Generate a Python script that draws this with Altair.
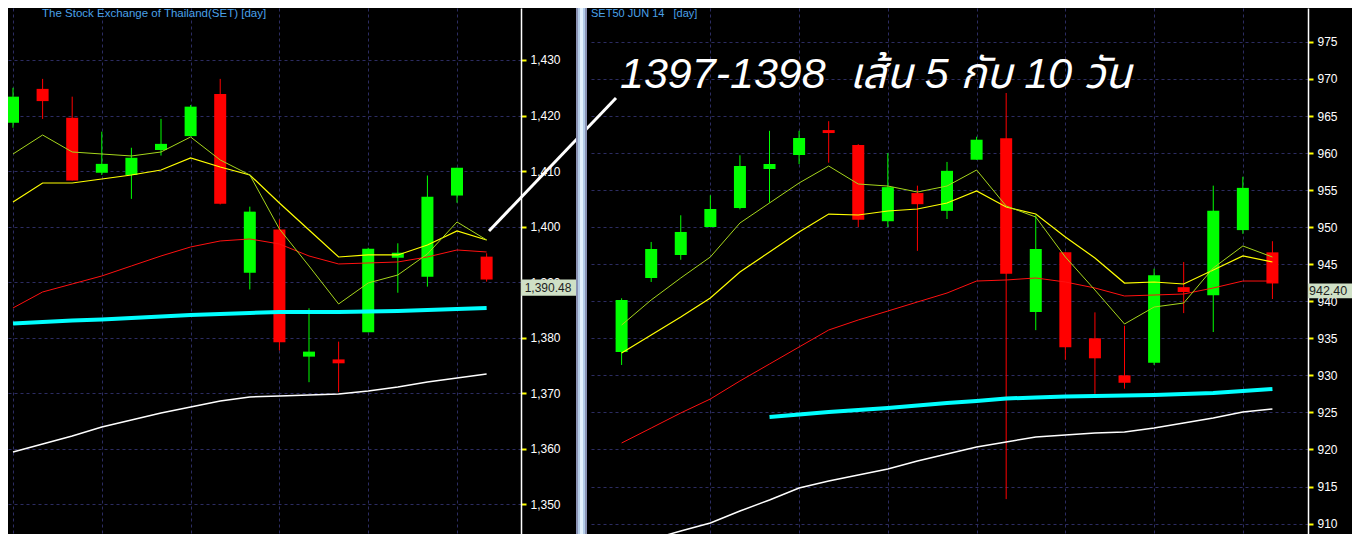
import altair as alt
import pandas as pd

# ---------------- Left panel: SET index, daily ----------------
set_day = list(range(1, 18))
set_open = [1418.7, 1424.8, 1419.6, 1409.7, 1409.3, 1413.8, 1416.3, 1423.9, 1391.7,
            1399.5, 1376.6, 1376.1, 1381.0, 1394.4, 1391.0, 1405.6, 1394.6]
set_high = [1425.0, 1426.6, 1423.4, 1417.1, 1414.2, 1419.4, 1421.9, 1426.6, 1403.6,
            1401.3, 1385.3, 1379.3, 1396.2, 1397.0, 1409.2, 1410.6, 1395.2]
set_low = [1417.8, 1419.4, 1408.3, 1409.3, 1405.0, 1412.8, 1416.3, 1404.0, 1388.7,
           1377.7, 1372.0, 1370.2, 1381.0, 1388.1, 1389.2, 1404.3, 1390.1]
set_close = [1423.4, 1422.6, 1408.3, 1411.3, 1412.4, 1414.9, 1421.6, 1404.1, 1402.7,
             1379.2, 1377.5, 1375.4, 1396.0, 1395.3, 1405.4, 1410.6, 1390.48]
set_ma5 = [1413.08, 1416.50, 1413.44, 1413.08, 1412.72, 1413.44, 1416.14, 1412.00, 1409.30,
           1399.58, 1392.92, 1386.08, 1389.86, 1391.30, 1395.08, 1400.84, 1397.60]
set_ma10 = [1404.44, 1407.86, 1407.86, 1408.58, 1409.30, 1410.20, 1412.36, 1410.74, 1409.30,
            1404.26, 1399.40, 1394.54, 1394.90, 1394.90, 1396.70, 1399.22, 1397.60]
set_ma25 = [1385.36, 1388.24, 1389.68, 1391.12, 1392.92, 1394.72, 1396.34, 1397.42, 1397.78,
            1396.88, 1394.72, 1393.28, 1393.46, 1393.64, 1394.54, 1395.80, 1395.44]
set_cyan = [1382.57, 1382.84, 1383.11, 1383.29, 1383.56, 1383.83, 1384.10, 1384.28, 1384.46,
            1384.64, 1384.64, 1384.64, 1384.73, 1384.82, 1385.00, 1385.18, 1385.36]
set_white = [1359.43, 1360.87, 1362.31, 1363.93, 1365.19, 1366.45, 1367.53, 1368.61, 1369.33,
             1369.51, 1369.69, 1369.87, 1370.41, 1371.13, 1372.03, 1372.75, 1373.47]
set_ticks = [1350, 1360, 1370, 1380, 1390, 1400, 1410, 1420, 1430]
set_grid_days = [1, 4, 7, 10, 13, 16]

# ---------------- Right panel: SET50 futures JUN 14, daily ----------------
s50_day = list(range(1, 24))
s50_open = [933.15, 943.14, 946.24, 950.02, 952.58, 957.85, 959.74, 963.1, 961.1, 950.8, 954.6, 952.2,
            959.1, 962.0, 938.55, 946.6, 935.0, 930.0, 931.7, 941.9, 940.8, 949.6, 946.6]
s50_high = [940.4, 948.0, 951.6, 954.3, 959.7, 963.0, 963.0, 964.3, 961.2, 960.0, 955.6, 958.8,
            962.2, 968.1, 951.6, 946.6, 938.5, 936.7, 944.4, 945.3, 955.6, 956.8, 948.1]
s50_low = [931.4, 942.6, 945.6, 950.0, 952.4, 953.3, 958.5, 958.7, 950.0, 950.0, 946.8, 951.1,
           959.1, 913.3, 936.1, 932.1, 927.5, 928.2, 931.4, 938.4, 935.85, 949.1, 940.3]
s50_close = [940.17, 947.05, 949.35, 952.45, 958.25, 958.52, 962.03, 962.7, 951.0, 955.4, 953.1, 957.6,
             961.8, 943.7, 947.05, 933.8, 932.3, 929.0, 943.5, 941.25, 952.2, 955.3, 942.40]
s50_ma5 = [936.79, 940.17, 943.14, 945.97, 950.56, 953.26, 955.96, 958.25, 955.82, 955.55, 954.74, 955.55,
           957.71, 952.85, 951.37, 945.97, 941.52, 936.93, 939.22, 939.76, 944.49, 947.46, 945.97]
s50_ma10 = [933.02, 935.45, 937.87, 940.44, 943.95, 946.65, 949.35, 951.77, 951.64, 952.18, 952.45, 953.26,
            954.88, 952.72, 951.77, 948.67, 945.84, 942.46, 942.60, 942.33, 944.22, 946.11, 945.30]
s50_ma25 = [920.87, 922.89, 924.92, 926.81, 929.24, 931.53, 933.83, 936.12, 937.47, 938.68, 939.90, 941.11,
            942.73, 942.87, 943.14, 942.60, 941.79, 940.71, 940.84, 940.98, 941.79, 942.73, 942.73]
s50_cyan_day = list(range(6, 24))
s50_cyan = [924.38, 924.72, 925.05, 925.32, 925.59, 925.93, 926.27, 926.54, 926.88, 927.01, 927.15, 927.21,
            927.28, 927.35, 927.48, 927.62, 927.89, 928.16]
s50_white = [906.84, 907.85, 909.00, 910.07, 911.69, 913.18, 914.80, 915.74, 916.55, 917.36, 918.44, 919.39,
             920.33, 921.01, 921.68, 921.95, 922.22, 922.35, 922.89, 923.57, 924.24, 925.05, 925.46]
s50_ticks = [910, 915, 920, 925, 930, 935, 940, 945, 950, 955, 960, 965, 970, 975]
s50_grid_days = [4, 7, 10, 13, 16, 19, 22]

left_title = "The Stock Exchange of Thailand(SET) [day]"
right_title = "SET50 JUN 14\u00a0\u00a0 [day]"
annotation = "1397-1398\u00a0 เส้น 5 กับ 10 วัน"

# ---------------- styling ----------------
H = 526
LW, RW = 513, 720
GREEN, RED = "#00ff00", "#ff0000"
GRID = "#2c2c62"
FONT = "Liberation Sans, Arial, DejaVu Sans, sans-serif"
THAI_FONT = "Liberation Sans, Noto Sans Thai, Noto Sans Thai UI, Loma, Garuda, DejaVu Sans, sans-serif"
TITLE_COL = "#4aa0e8"


def panel(day, o, h, l, c, lines, xdom, ydom, ticks, fmt, gridx):
    df = pd.DataFrame({"d": day, "o": o, "h": h, "l": l, "c": c})
    df["col"] = [GREEN if cc >= oo else RED for oo, cc in zip(o, c)]
    xs = alt.Scale(domain=xdom, nice=False, zero=False)
    ys = alt.Scale(domain=ydom, nice=False, zero=False)
    xaxis = alt.Axis(values=gridx, labels=False, ticks=False, domain=False, grid=True,
                     title=None, gridColor=GRID, gridDash=[3, 3], gridWidth=1)
    yaxis = alt.Axis(orient="right", values=ticks, format=fmt, grid=True, title=None,
                     gridColor=GRID, gridDash=[3, 3], gridWidth=1)
    base = alt.Chart(df)
    wick = base.mark_rule(clip=True, strokeWidth=1).encode(
        x=alt.X("d:Q", scale=xs, axis=xaxis),
        y=alt.Y("l:Q", scale=ys, axis=yaxis),
        y2="h:Q",
        color=alt.Color("col:N", scale=None),
    )
    body = base.mark_bar(size=12, clip=True).encode(
        x=alt.X("d:Q", scale=xs, axis=xaxis),
        y=alt.Y("o:Q", scale=ys, axis=yaxis),
        y2="c:Q",
        color=alt.Color("col:N", scale=None),
    )
    layers = [wick, body]
    for dd, vals, color, w in lines:
        ldf = pd.DataFrame({"d": dd, "v": vals})
        layers.append(
            alt.Chart(ldf).mark_line(color=color, strokeWidth=w, clip=True).encode(
                x=alt.X("d:Q", scale=xs, axis=xaxis),
                y=alt.Y("v:Q", scale=ys, axis=yaxis),
            )
        )
    return layers, ys, yaxis


def price_box(value, label, x0, x1, tx, units, ys, yaxis, size, align="center"):
    bdf = pd.DataFrame({"top": [value], "bot": [value - units], "mid": [value - units / 2], "t": [label]})
    box = alt.Chart(bdf).mark_rect(color="#cfe0c6").encode(
        x=alt.value(x0), x2=alt.value(x1),
        y=alt.Y("top:Q", scale=ys, axis=yaxis), y2="bot:Q",
    )
    txt = alt.Chart(bdf).mark_text(color="#1e1e1e", font=FONT, fontSize=size, align=align,
                                   baseline="middle").encode(
        x=alt.value(tx), y=alt.Y("mid:Q", scale=ys, axis=yaxis), text="t:N"
    )
    return [box, txt]


def label(text, x, y, **kw):
    return alt.Chart(pd.DataFrame({"t": [text]})).mark_text(**kw).encode(
        x=alt.value(x), y=alt.value(y), text="t:N"
    )


# ---------------- left panel ----------------
left_lines = [
    (set_day, set_white, "#ffffff", 1.5),
    (set_day, set_cyan, "#00ffff", 4),
    (set_day, set_ma25, "#ff1010", 1),
    (set_day, set_ma10, "#ffff00", 1.2),
    (set_day, set_ma5, "#a6d61c", 1),
]
l_layers, l_ys, l_yaxis = panel(set_day, set_open, set_high, set_low, set_close, left_lines,
                                [1, 1 + LW / 30.19], [1344.67, 1439.36], set_ticks, ",d",
                                set_grid_days)
l_layers += price_box(set_close[-1], f"{set_close[-1]:,.2f}", LW, LW + 55, LW + 27, 2.9,
                      l_ys, l_yaxis, 12)
l_layers.append(label(left_title, 34, 6, color=TITLE_COL, font=FONT, fontSize=11.5,
                      align="left", baseline="middle"))
left = alt.layer(*l_layers).properties(width=LW, height=H)

# ---------------- right panel ----------------
right_lines = [
    (s50_day, s50_white, "#ffffff", 1.5),
    (s50_cyan_day, s50_cyan, "#00ffff", 4),
    (s50_day, s50_ma25, "#ff1010", 1),
    (s50_day, s50_ma10, "#ffff00", 1.2),
    (s50_day, s50_ma5, "#a6d61c", 1),
]
r_layers, r_ys, r_yaxis = panel(s50_day, s50_open, s50_high, s50_low, s50_close, right_lines,
                                [1 - 29 / 30, 1 + 691 / 30], [908.59, 979.575], s50_ticks, "d",
                                s50_grid_days)
r_layers += price_box(s50_close[-1], f"{s50_close[-1]:.2f}", RW, RW + 44, RW + 1, 2.0,
                      r_ys, r_yaxis, 12.5, align="left")
r_layers.append(label(right_title, 3, 6, color=TITLE_COL, font=FONT, fontSize=11,
                      align="left", baseline="middle"))
# annotation arrow line and text
r_layers.append(
    alt.Chart(pd.DataFrame({"a": [0]})).mark_rule(color="white", strokeWidth=3).encode(
        x=alt.value(-99), x2=alt.value(28), y=alt.value(223), y2=alt.value(90)
    )
)
r_layers.append(label(annotation, 32, 80, color="white", font=THAI_FONT, fontSize=43,
                      fontStyle="italic", align="left", baseline="alphabetic"))
# divider between the two panels
for x0, x1, col in [(-12, -1, "#8a92b4"), (-10, -3, "#b4cce8"), (-8, -5, "#e2f0fc")]:
    r_layers.append(
        alt.Chart(pd.DataFrame({"a": [0]})).mark_rect(color=col).encode(
            x=alt.value(x0), x2=alt.value(x1), y=alt.value(0), y2=alt.value(H)
        )
    )
right = alt.layer(*r_layers).properties(width=RW, height=H)

chart = (
    alt.hconcat(left, right, spacing=67, bounds="flush")
    .properties(padding=0, background="#000000")
    .configure_view(strokeWidth=0)
    .configure_axis(labelColor="#ffffff", labelFont=FONT, labelFontSize=12, tickColor="#ffff00",
                    tickSize=5, tickWidth=2, domainColor="#ffffff", domainWidth=1.5, labelPadding=4)
)

chart.save("out.html", embed_options={"renderer": "svg", "actions": False})
